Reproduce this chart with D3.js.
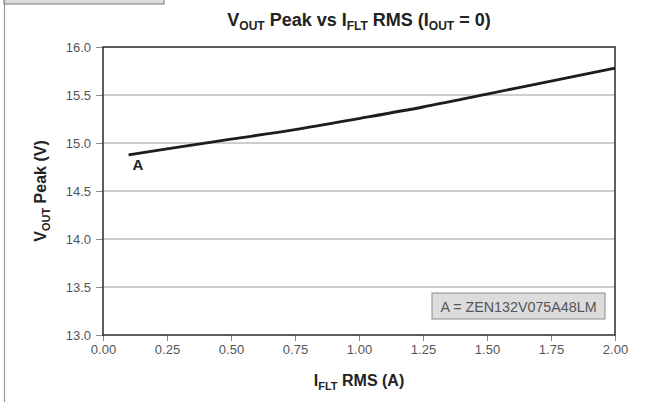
<!DOCTYPE html>
<html><head><meta charset="utf-8">
<script src="https://cdn.jsdelivr.net/npm/d3@7"></script>
<style>
body{margin:0;background:#fff;}
svg{display:block;font-family:"Liberation Sans",Arial,Helvetica,sans-serif;}
</style></head>
<body>
<svg id="chart" width="645" height="402"></svg>
<script>
const xValues = [0.1, 0.25, 0.5, 0.75, 1.0, 1.25, 1.5, 1.75, 2.0];
const seriesA = [14.875, 14.94, 15.04, 15.14, 15.255, 15.375, 15.51, 15.645, 15.78];
const xTicks = [0, 0.25, 0.5, 0.75, 1.0, 1.25, 1.5, 1.75, 2.0];
const yTicks = [13.0, 13.5, 14.0, 14.5, 15.0, 15.5, 16.0];
const seriesLabel = "A";
const legendText = "A = ZEN132V075A48LM";

const svg = d3.select("#chart");
const L = 103, R = 615, T = 47, B = 335;
const x = d3.scaleLinear().domain([0, 2]).range([L, R]);
const y = d3.scaleLinear().domain([13, 16]).range([B, T]);

// decorative page elements
svg.append("rect").attr("x", 4).attr("y", -5).attr("width", 160).attr("height", 9)
  .attr("fill", "#dcdcdc").attr("stroke", "#8a8a8a").attr("stroke-width", 1.2);
svg.append("line").attr("x1", 4.5).attr("x2", 4.5).attr("y1", 0).attr("y2", 402)
  .attr("stroke", "#9a9a9a").attr("stroke-width", 1.2);

// gridlines
svg.append("g").selectAll("line").data(yTicks.filter(d => d > 13 && d < 16)).join("line")
  .attr("x1", L).attr("x2", R).attr("y1", d => y(d)).attr("y2", d => y(d))
  .attr("stroke", "#9b9b9b").attr("stroke-width", 1);

// axes
const xAxis = d3.axisBottom(x).tickValues(xTicks).tickFormat(d3.format(".2f")).tickSize(6).tickPadding(4);
const gx = svg.append("g").attr("transform", `translate(0,${B})`).call(xAxis);
gx.select(".domain").remove();
gx.selectAll(".tick line").attr("stroke", "#8a8a8a");
gx.selectAll("text").attr("font-size", 13).attr("fill", "#555").attr("font-family", "Liberation Sans, Arial, sans-serif");

const yAxis = d3.axisLeft(y).tickValues(yTicks).tickFormat(d3.format(".1f")).tickSize(7).tickPadding(5);
const gy = svg.append("g").attr("transform", `translate(${L},0)`).call(yAxis);
gy.select(".domain").remove();
gy.selectAll(".tick line").attr("stroke", "#8a8a8a");
gy.selectAll("text").attr("font-size", 13).attr("fill", "#555").attr("font-family", "Liberation Sans, Arial, sans-serif");

// frame
svg.append("rect").attr("x", L).attr("y", T).attr("width", R - L).attr("height", B - T)
  .attr("fill", "none").attr("stroke", "#2a2a2a").attr("stroke-width", 1.5);

// curve
const line = d3.line().x((d, i) => x(xValues[i])).y(d => y(d)).curve(d3.curveMonotoneX);
svg.append("path").datum(seriesA).attr("d", line)
  .attr("fill", "none").attr("stroke", "#1e1c1d").attr("stroke-width", 2.8);

svg.append("text").attr("x", x(xValues[0]) + 4).attr("y", y(seriesA[0]) + 15)
  .attr("font-size", 15).attr("font-weight", "bold").attr("fill", "#222").text(seriesLabel);

// legend
const lg = svg.append("g");
lg.append("rect").attr("x", 432).attr("y", 293).attr("width", 173).attr("height", 26)
  .attr("fill", "#dcdcdc").attr("stroke", "#8a8a8a").attr("stroke-width", 1);
lg.append("text").attr("x", 518.5).attr("y", 311.5).attr("text-anchor", "middle")
  .attr("font-size", 14.3).attr("fill", "#555").text(legendText);

// title
const title = svg.append("text").attr("x", (L + R) / 2).attr("y", 26).attr("text-anchor", "middle")
  .attr("font-size", 18).attr("font-weight", "bold").attr("fill", "#222");
title.append("tspan").text("V");
title.append("tspan").attr("font-size", 12).attr("dy", 4).text("OUT");
title.append("tspan").attr("dy", -4).text(" Peak vs I");
title.append("tspan").attr("font-size", 12).attr("dy", 4).text("FLT");
title.append("tspan").attr("dy", -4).text(" RMS (I");
title.append("tspan").attr("font-size", 12).attr("dy", 4).text("OUT");
title.append("tspan").attr("dy", -4).text(" = 0)");

// x label
const xl = svg.append("text").attr("x", (L + R) / 2).attr("y", 386).attr("text-anchor", "middle")
  .attr("font-size", 16).attr("font-weight", "bold").attr("fill", "#222");
xl.append("tspan").text("I");
xl.append("tspan").attr("font-size", 11).attr("dy", 4).text("FLT");
xl.append("tspan").attr("dy", -4).text(" RMS (A)");

// y label
const yl = svg.append("text").attr("transform", `translate(46,${(T + B) / 2}) rotate(-90)`)
  .attr("text-anchor", "middle").attr("font-size", 16).attr("font-weight", "bold").attr("fill", "#222");
yl.append("tspan").text("V");
yl.append("tspan").attr("font-size", 11).attr("dy", 4).text("OUT");
yl.append("tspan").attr("dy", -4).text(" Peak (V)");
</script>
</body></html>
